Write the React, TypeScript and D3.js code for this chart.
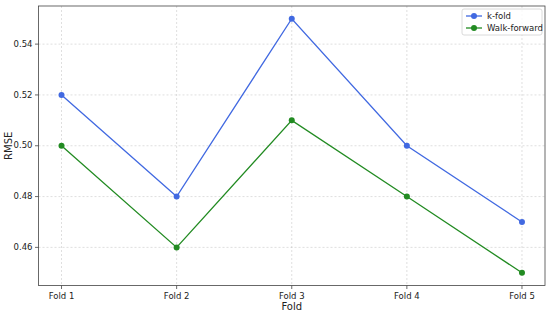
import React from "react";
import * as d3 from "d3";

const folds = ["Fold 1", "Fold 2", "Fold 3", "Fold 4", "Fold 5"];
const kfold = [0.52, 0.48, 0.55, 0.5, 0.47];
const walkForward = [0.5, 0.46, 0.51, 0.48, 0.45];
const yTicks = [0.46, 0.48, 0.5, 0.52, 0.54];

const W = 550, H = 314;
const M = { left: 38.5, right: 5, top: 6, bottom: 28.5 };

export default function App() {
  const x = d3.scaleLinear().domain([-0.2, 4.2]).range([M.left, W - M.right]);
  const y = d3.scaleLinear().domain([0.445, 0.555]).range([H - M.bottom, M.top]);
  const line = d3.line<number>().x((_, i) => x(i)).y((d) => y(d));
  const font = "DejaVu Sans, sans-serif";
  const series = [
    { name: "k-fold", data: kfold, color: "#4169E1" },
    { name: "Walk-forward", data: walkForward, color: "#228B22" },
  ];
  return (
    <svg width={W} height={H} style={{ position: "absolute", left: 0, top: 0 }} fontFamily={font}>
      <rect width={W} height={H} fill="white" />
      {folds.map((f, i) => (
        <line key={f} x1={x(i)} x2={x(i)} y1={M.top} y2={H - M.bottom} stroke="#b0b0b0" strokeOpacity={0.5} strokeWidth={0.8} strokeDasharray="2,2" />
      ))}
      {yTicks.map((t) => (
        <line key={t} x1={M.left} x2={W - M.right} y1={y(t)} y2={y(t)} stroke="#b0b0b0" strokeOpacity={0.5} strokeWidth={0.8} strokeDasharray="2,2" />
      ))}
      {series.map((s) => (
        <g key={s.name}>
          <path d={line(s.data) || ""} fill="none" stroke={s.color} strokeWidth={1.3} />
          {s.data.map((d, i) => (
            <circle key={i} cx={x(i)} cy={y(d)} r={3} fill={s.color} />
          ))}
        </g>
      ))}
      <rect x={M.left} y={M.top} width={W - M.right - M.left} height={H - M.bottom - M.top} fill="none" stroke="#444" strokeWidth={0.8} />
      {folds.map((f, i) => (
        <g key={f}>
          <line x1={x(i)} x2={x(i)} y1={H - M.bottom} y2={H - M.bottom + 3.5} stroke="#444" strokeWidth={0.8} />
          <text x={x(i)} y={H - M.bottom + 13} fontSize={8.5} textAnchor="middle" fill="#222">{f}</text>
        </g>
      ))}
      {yTicks.map((t) => (
        <g key={t}>
          <line x1={M.left - 3.5} x2={M.left} y1={y(t)} y2={y(t)} stroke="#444" strokeWidth={0.8} />
          <text x={M.left - 6} y={y(t)} dy="0.32em" fontSize={8.5} textAnchor="end" fill="#222">{t.toFixed(2)}</text>
        </g>
      ))}
      <text x={(M.left + W - M.right) / 2} y={H - 4} fontSize={10} textAnchor="middle" fill="#222">Fold</text>
      <text transform={`translate(12,${(M.top + H - M.bottom) / 2}) rotate(-90)`} fontSize={10} textAnchor="middle" fill="#222">RMSE</text>
      <g>
        <rect x={462} y={9} width={80} height={26} rx={2} fill="white" fillOpacity={0.8} stroke="#d0d0d0" strokeWidth={0.8} />
        {series.map((s, i) => (
          <g key={s.name}>
            <line x1={466} x2={482} y1={16 + i * 12} y2={16 + i * 12} stroke={s.color} strokeWidth={1.3} />
            <circle cx={474} cy={16 + i * 12} r={3} fill={s.color} />
            <text x={487} y={16 + i * 12} dy="0.32em" fontSize={8.5} fill="#222">{s.name}</text>
          </g>
        ))}
      </g>
    </svg>
  );
}
